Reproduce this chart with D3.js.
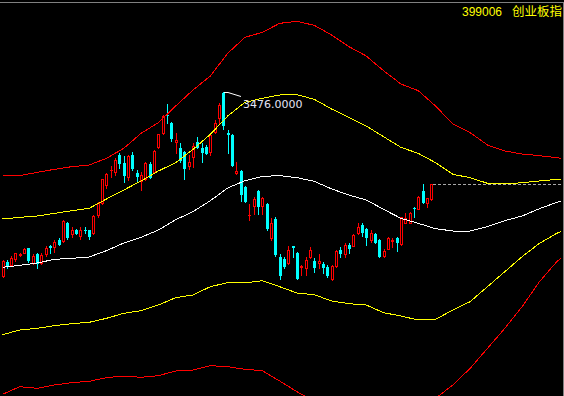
<!DOCTYPE html>
<html><head><meta charset="utf-8">
<script src="https://cdn.jsdelivr.net/npm/d3@7"></script>
<style>html,body{margin:0;padding:0;background:#000;overflow:hidden}svg{display:block}</style>
</head><body>
<svg id="chart" width="564" height="396"></svg>
<script>
// ---- data ----
const titleCode = "399006";
const titleName = "创业板指";
const peakIndex = 51;
const peakLabel = "3476.0000";
const priceMin = 2199.2, priceMax = 3862.4;

const openP = [2703.2,2764.1,2749.4,2773.3,2792.2,2801.1,2819.5,2756.5,2797.7,2759.1,
2794.3,2827.1,2823.7,2854.4,2851.5,2924.5,2879.6,2896.4,2872.5,2898.5,
2896.4,2885.1,2959.4,3011.1,3085.4,3146.3,3141.3,3211.4,3179.1,3117.7,
3211.4,3134.5,3103.5,3109.3,3173.6,3141.3,3243.7,3302.5,3380.7,3347.1,
3267.3,3239.5,3225.3,3166.5,3204.3,3267.3,3239.5,3246.3,3225.3,3309.3,
3365.5,3470.0,3303.8,3295.4,3134.5,3144.2,3078.3,2957.3,2998.5,3060.2,
2997.2,3005.6,2861.5,2942.6,2784.3,2774.6,2756.5,2827.1,2801.1,2742.3,
2735.5,2784.3,2767.5,2756.5,2753.6,2742.3,2689.3,2745.2,2812.4,2795.6,
2833.4,2830.5,2885.1,2917.4,2900.6,2854.4,2879.6,2854.4,2788.5,2818.7,
2851.5,2861.5,2838.9,2927.1,2927.9,2990.1,2985.9,3058.9,3011.1,3026.3];
const highP = [2770.4,2770.4,2787.2,2801.1,2801.1,2820.8,2822.1,2795.6,2799.8,2798.5,
2829.2,2833.4,2854.4,2861.5,2938.4,2931.3,2907.7,2900.6,2907.7,2907.7,
2898.5,2959.4,3014.0,3112.7,3137.1,3165.2,3197.5,3218.5,3207.2,3213.5,
3224.0,3148.4,3141.3,3182.0,3179.9,3232.4,3301.7,3379.4,3425.6,3350.0,
3302.5,3260.5,3228.2,3211.4,3260.5,3288.3,3260.5,3253.4,3302.5,3358.4,
3428.5,3476.0,3316.4,3299.6,3183.3,3148.4,3081.2,3005.6,3033.4,3062.3,
3033.4,3008.5,2945.5,2952.3,2794.3,2784.3,2827.1,2829.2,2804.0,2749.4,
2781.7,2823.7,2777.5,2795.6,2763.3,2749.4,2749.4,2812.4,2823.7,2843.1,
2840.5,2877.5,2924.5,2924.5,2904.8,2896.4,2882.5,2858.6,2814.5,2867.0,
2861.5,2864.9,2953.1,2969.1,2969.9,2994.3,3039.2,3089.6,3032.9,3091.7];
const lowP = [2699.0,2736.8,2745.2,2767.5,2787.2,2798.5,2763.3,2752.3,2738.1,2752.3,
2787.2,2798.5,2805.3,2833.4,2848.1,2857.3,2865.7,2879.6,2858.6,2882.5,
2857.3,2881.7,2953.1,3007.7,3071.5,3120.3,3127.4,3155.5,3099.3,3106.4,
3148.4,3099.3,3064.4,3104.3,3114.8,3137.9,3240.8,3299.6,3344.5,3271.5,
3221.1,3183.3,3109.3,3151.3,3162.3,3239.5,3183.3,3215.6,3211.4,3302.5,
3344.5,3320.6,3218.5,3165.2,3130.3,3018.2,3016.1,2938.4,2963.3,2964.6,
2963.3,2896.4,2854.4,2787.2,2689.3,2735.5,2752.3,2781.7,2689.3,2707.4,
2707.4,2777.5,2721.3,2735.5,2714.5,2700.3,2684.3,2743.1,2784.3,2784.3,
2798.5,2827.1,2879.6,2871.2,2833.4,2847.3,2841.8,2781.7,2785.1,2814.5,
2826.3,2809.5,2833.4,2924.5,2924.5,2952.3,2982.5,3008.5,2994.3,3022.4];
const closeP = [2766.2,2749.4,2780.1,2798.5,2795.6,2815.3,2770.4,2787.2,2756.5,2791.4,
2822.1,2825.0,2847.3,2837.6,2934.2,2868.3,2896.4,2882.5,2896.4,2895.1,
2871.2,2955.2,3011.1,3109.3,3131.6,3149.2,3190.4,3179.1,3127.4,3207.2,
3155.5,3123.2,3127.4,3176.5,3120.3,3228.2,3298.3,3375.2,3378.1,3281.5,
3274.4,3190.4,3155.5,3183.3,3249.2,3246.3,3225.3,3221.1,3295.4,3347.1,
3421.4,3337.4,3299.6,3169.4,3144.2,3047.6,3019.5,2960.7,3026.3,2998.5,
3029.2,2903.5,2924.5,2795.6,2707.4,2745.2,2813.7,2823.7,2693.5,2745.2,
2771.7,2812.4,2742.3,2766.2,2742.3,2707.4,2745.2,2809.5,2798.5,2833.4,
2819.5,2875.4,2910.3,2889.3,2868.3,2885.1,2847.3,2787.2,2809.5,2862.8,
2854.4,2847.3,2949.7,2946.8,2966.5,2987.5,3035.0,3014.0,3029.5,3089.6];

const bandIdx = [0,4,8,12,16,20,24,28,32,36,40,44,48,52,56,60,64,68,72,76,80,84,88,92,96,100,104,108,112,116,120,124,128,129];
const midLine = [2739.6,2748.0,2757.8,2773.2,2777.4,2783.0,2809.6,2841.8,2865.6,2896.4,2939.8,2973.4,3019.6,3072.8,3103.6,3121.8,3124.6,3116.2,3100.8,3069.0,3043.4,3022.4,2983.2,2945.4,2924.4,2902.0,2892.2,2892.2,2910.4,2935.6,2955.2,2986.0,3012.6,3016.8];
const yelUpper = [2942.6,2949.6,2955.2,2966.4,2977.6,2987.4,3026.6,3064.4,3102.2,3144.2,3179.2,3235.2,3298.2,3375.2,3432.6,3449.4,3463.4,3464.8,3445.2,3404.6,3369.6,3333.2,3288.4,3243.6,3218.4,3179.2,3130.2,3116.2,3092.4,3089.6,3095.2,3102.2,3109.2,3110.6];
const yelLower = [2456.8,2476.4,2483.4,2494.6,2503.0,2508.6,2525.4,2546.4,2557.6,2581.4,2612.2,2623.4,2658.4,2675.2,2673.8,2683.6,2658.4,2631.8,2624.8,2598.2,2587.0,2581.4,2549.2,2535.2,2518.4,2521.2,2560.4,2595.4,2658.4,2721.4,2784.4,2840.4,2882.4,2890.8];
const redUpper = [3124.6,3124.6,3138.6,3151.2,3162.4,3169.4,3197.4,3239.4,3302.4,3347.2,3417.2,3484.4,3543.2,3638.4,3705.6,3726.6,3764.4,3772.8,3756.0,3715.4,3666.4,3627.2,3565.6,3509.6,3481.6,3417.2,3341.6,3305.2,3253.4,3228.2,3215.6,3208.6,3200.2,3197.4];
const redLower = [2206.2,2238.4,2231.4,2245.4,2255.2,2260.8,2276.2,2283.2,2277.6,2284.6,2304.2,2308.4,2326.6,2322.4,2311.2,2305.6,2262.2,2217.4,2175.4,2147.4,2126.4,2119.4,2126.4,2140.4,2161.4,2189.4,2245.4,2315.4,2399.4,2483.4,2574.4,2679.4,2763.4,2777.4];

// ---- drawing ----
const W = 564, H = 396;
const UP = "#ff0000", DOWN = "#00ffff";
const svg = d3.select("#chart");
svg.append("rect").attr("width", W).attr("height", H).attr("fill", "#000");

const x = d3.scaleLinear().domain([0, 129]).range([2.5, 561.1]);
const y = d3.scaleLinear().domain([priceMin, priceMax]).range([H, 0]);

svg.append("defs").append("clipPath").attr("id", "plot")
  .append("rect").attr("x", 0).attr("y", 3).attr("width", 563).attr("height", H - 3);

const plot = svg.append("g").attr("clip-path", "url(#plot)");

// candles
const cdata = d3.range(openP.length).map(i => {
  const o = openP[i], h = highP[i], l = lowP[i], c = closeP[i];
  const up = c >= o;
  const cx = Math.round(x(i));
  const yt = Math.round(y(Math.max(o, c))), yb = Math.round(y(Math.min(o, c)));
  const yh = Math.round(y(h)), yl = Math.round(y(l));
  return {i, up, cx, yt, yb, yh, yl};
});
const cg = plot.append("g");
const cand = cg.selectAll("g.c").data(cdata).join("g").attr("class", "c");

cand.each(function(d) {
  const g = d3.select(this);
  const col = d.up ? UP : DOWN;
  if (d.up && d.yb - d.yt >= 2) {
    if (d.yt > d.yh) g.append("line").attr("x1", d.cx + 0.5).attr("x2", d.cx + 0.5)
      .attr("y1", d.yh).attr("y2", d.yt).attr("stroke", col);
    if (d.yl > d.yb) g.append("line").attr("x1", d.cx + 0.5).attr("x2", d.cx + 0.5)
      .attr("y1", d.yb + 1).attr("y2", d.yl + 1).attr("stroke", col);
    g.append("rect").attr("x", d.cx - 0.5).attr("y", d.yt + 0.5)
      .attr("width", 2).attr("height", d.yb - d.yt)
      .attr("fill", "#000").attr("stroke", col).attr("stroke-width", 1);
  } else {
    g.append("line").attr("x1", d.cx + 0.5).attr("x2", d.cx + 0.5)
      .attr("y1", d.yh).attr("y2", d.yl + 1).attr("stroke", col);
    g.append("rect").attr("x", d.cx - 1).attr("y", d.yt)
      .attr("width", 3).attr("height", Math.max(1, d.yb - d.yt + 1)).attr("fill", col);
  }
});
cg.selectAll("line,rect").attr("shape-rendering", "crispEdges");

// band lines
const line = d3.line().x((d, i) => x(bandIdx[i])).y(d => y(d));
[[redUpper, "#ff0000"], [redLower, "#ff0000"], [yelUpper, "#ffff00"], [yelLower, "#ffff00"], [midLine, "#ffffff"]]
  .forEach(([arr, col]) => {
    plot.append("path").attr("d", line(arr)).attr("fill", "none")
      .attr("stroke", col).attr("stroke-width", 1).attr("shape-rendering", "crispEdges");
  });

// last price dashed line
const last = closeP.length - 1;
const yl = Math.round(y(closeP[last])) + 0.5;
plot.append("line").attr("x1", x(last) + 2).attr("x2", 563).attr("y1", yl).attr("y2", yl)
  .attr("stroke", "#a8a8a8").attr("stroke-dasharray", "3,2").attr("shape-rendering", "crispEdges");

// peak annotation
const px = Math.round(x(peakIndex)), py = Math.round(y(highP[peakIndex])) + 0.5;
svg.append("path")
  .attr("d", `M${px + 1},${py}H${px + 5}L${px + 18},${py + 4}`)
  .attr("fill", "none").attr("stroke", "#ffffff").attr("stroke-width", 1);
svg.append("text").attr("x", px + 20).attr("y", py + 15)
  .attr("fill", "#e4e4f4").attr("font-family", "DejaVu Sans, sans-serif").attr("font-size", 11)
  .text(peakLabel);

// frame
svg.append("rect").attr("x", 0).attr("y", 2).attr("width", W).attr("height", 1).attr("fill", "#808080");
svg.append("rect").attr("x", 563).attr("y", 2).attr("width", 1).attr("height", H).attr("fill", "#808080");

// title
svg.append("text").attr("x", 462).attr("y", 16).attr("fill", "#ffff00")
  .attr("font-family", "Liberation Sans, Arial, sans-serif").attr("font-size", 12).text(titleCode);
svg.append("text").attr("x", 562).attr("y", 16).attr("text-anchor", "end").attr("fill", "#ffff00")
  .attr("font-family", "Noto Sans CJK SC, sans-serif").attr("font-size", 12.5).text(titleName);
</script>
</body></html>
